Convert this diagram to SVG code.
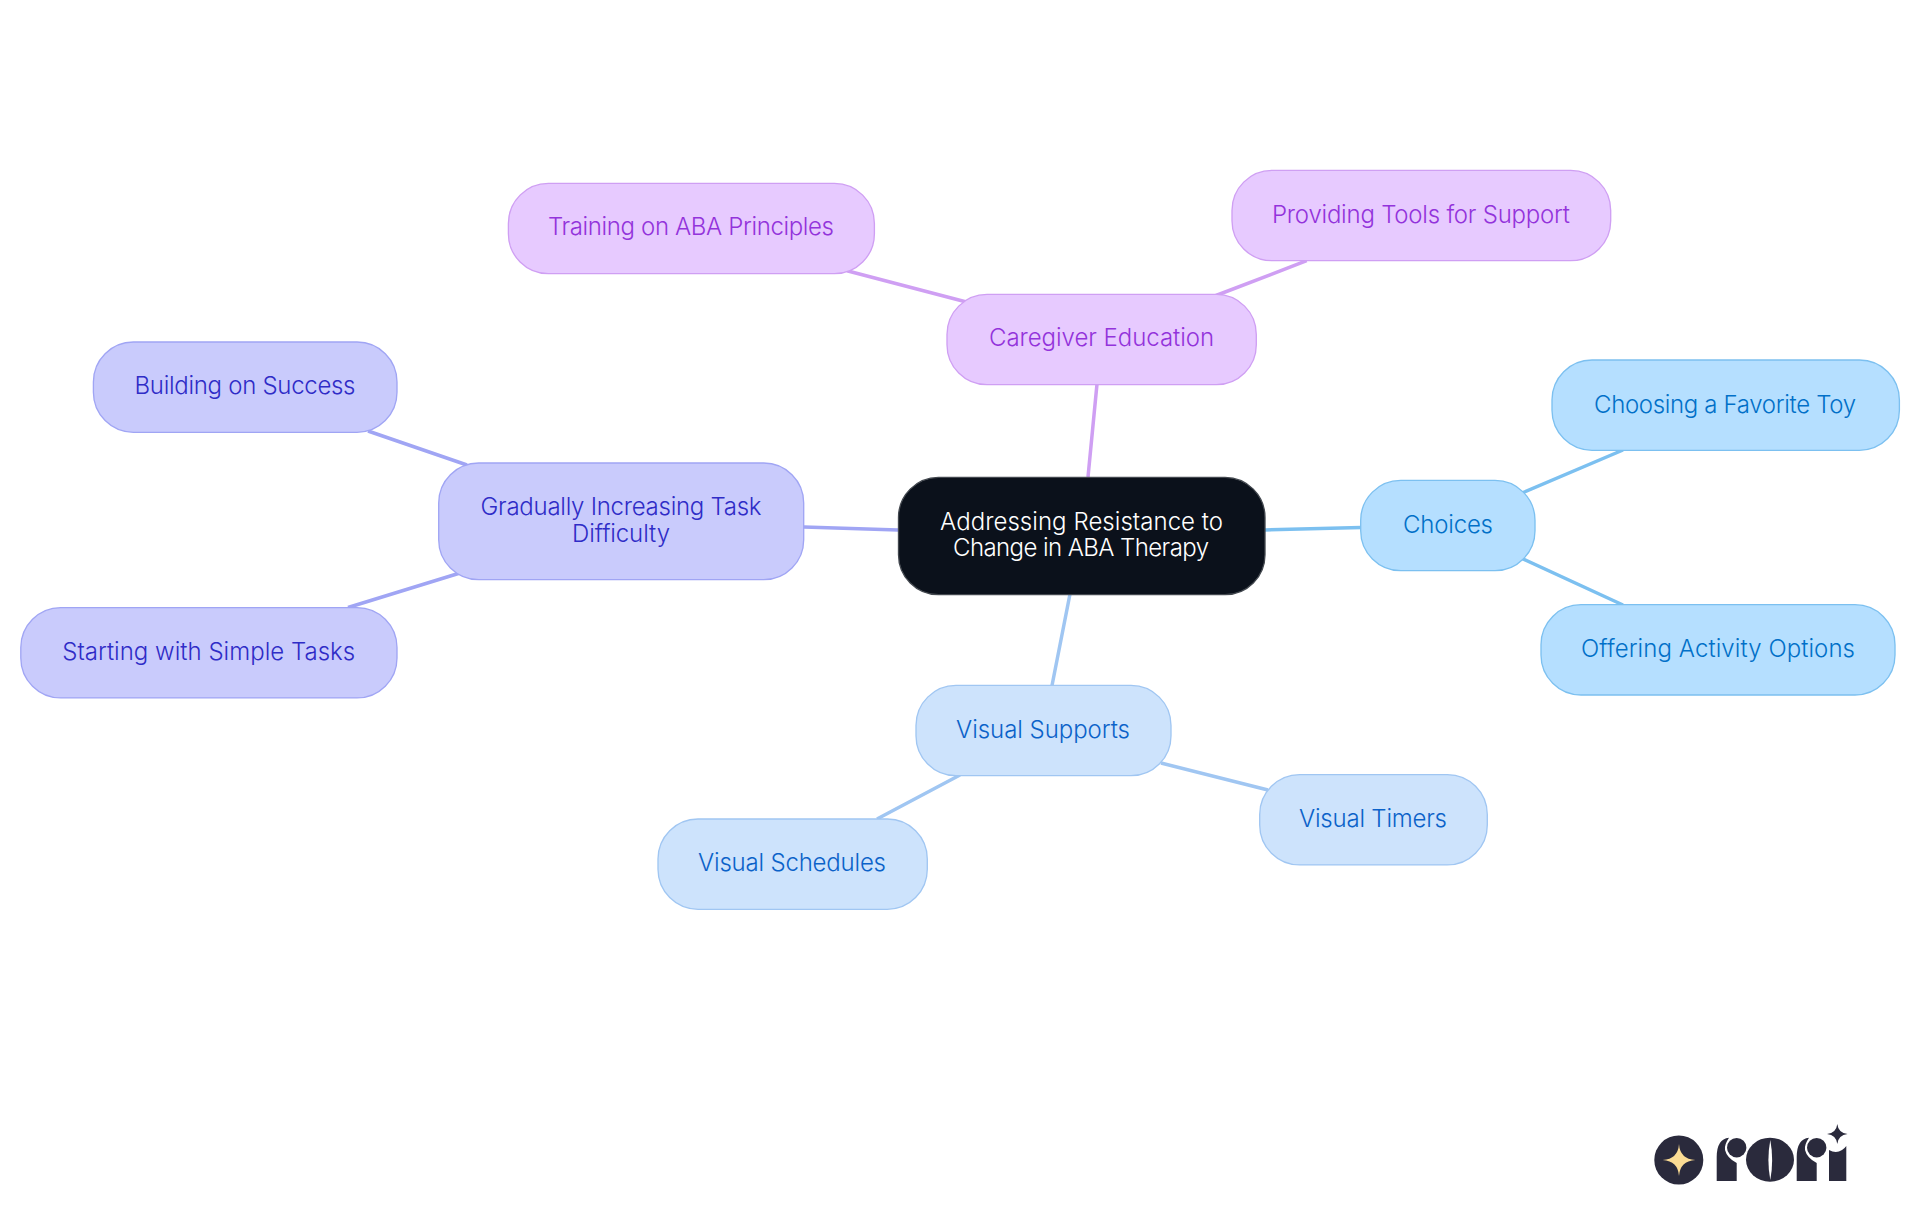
<svg xmlns="http://www.w3.org/2000/svg" width="1920" height="1215" viewBox="0 0 1920 1215">
<style>
text{font-family:"Inter","Noto Sans","Liberation Sans",sans-serif;font-size:24px;font-weight:350;text-anchor:middle}
.c{fill:none;stroke-width:3.5}
.n{stroke-width:1.33}
.root rect{fill:#0b111b;stroke:#43484f}.root text{fill:#fff}
.pu rect{fill:#e7caff;stroke:#cf9ff3}.pu text{fill:#9333db}
.sk rect{fill:#b5dfff;stroke:#7cc0f0}.sk text{fill:#0170c8}
.bl rect{fill:#cde3fc;stroke:#a0c6f2}.bl text{fill:#0b62c9}
.in rect{fill:#c9cbfc;stroke:#a0a5f4}.in text{fill:#2f2cc7}
.ink{fill:#2a2a3c}
</style>
<rect width="1920" height="1215" fill="#fff"/>
<g id="connectors">
<path class="c" stroke="#cf9ff3" d="M1097 384L1088 477M847 270.7L965.5 301.7M1216 295.500L1306.7 260.7"/>
<path class="c" stroke="#7cc0f0" d="M1265 530L1361 527.5M1522 493L1623 450M1521 558L1623 605"/>
<path class="c" stroke="#a0c6f2" d="M1070 594L1052 685.500M960 775L877 819M1161 763L1268 790"/>
<path class="c" stroke="#a0a5f4" d="M804 527L898 530M368 431L467 465M460 573L348 607.500"/>
</g>
<g id="node-root" class="root"><rect class="n" x="898.5" y="477.4" width="366.5" height="117.3" rx="40"/><text x="1081.6" y="530" textLength="283">Addressing Resistance to</text><text x="1081" y="556.400" textLength="256">Change in ABA Therapy</text></g>
<g id="node-caregiver" class="pu"><rect class="n" x="947" y="294.4" width="309.3" height="90.3" rx="40"/><text x="1101.5" y="345.7" textLength="225">Caregiver Education</text></g>
<g id="node-training" class="pu"><rect class="n" x="508.4" y="183.4" width="366" height="90.3" rx="40"/><text x="691" y="235" textLength="286">Training on ABA Principles</text></g>
<g id="node-providing" class="pu"><rect class="n" x="1232" y="170.4" width="378.7" height="90.3" rx="40"/><text x="1421" y="222.7" textLength="298">Providing Tools for Support</text></g>
<g id="node-choices" class="sk"><rect class="n" x="1360.7" y="480.4" width="174.3" height="90.3" rx="40"/><text x="1448" y="532.7" textLength="90">Choices</text></g>
<g id="node-choosing" class="sk"><rect class="n" x="1552" y="360" width="347.4" height="90.3" rx="40"/><text x="1725" y="412.7" textLength="262">Choosing a Favorite Toy</text></g>
<g id="node-offering" class="sk"><rect class="n" x="1541" y="604.7" width="354" height="90.3" rx="40"/><text x="1718" y="656.7" textLength="274">Offering Activity Options</text></g>
<g id="node-supports" class="bl"><rect class="n" x="916" y="685.4" width="255" height="90.3" rx="40"/><text x="1043" y="737.7" textLength="174">Visual Supports</text></g>
<g id="node-schedules" class="bl"><rect class="n" x="658" y="819" width="269.3" height="90.3" rx="40"/><text x="792" y="871" textLength="188">Visual Schedules</text></g>
<g id="node-timers" class="bl"><rect class="n" x="1259.7" y="774.6" width="227.6" height="90.3" rx="40"/><text x="1373" y="826.7" textLength="148">Visual Timers</text></g>
<g id="node-gradually" class="in"><rect class="n" x="438.7" y="463" width="365" height="116.7" rx="40"/><text x="621" y="515.200" textLength="281">Gradually Increasing Task</text><text x="621" y="541.7" textLength="98">Difficulty</text></g>
<g id="node-building" class="in"><rect class="n" x="93.400" y="342" width="303.600" height="90.3" rx="40"/><text x="245" y="394" textLength="221">Building on Success</text></g>
<g id="node-starting" class="in"><rect class="n" x="20.8" y="607.6" width="376.2" height="90.3" rx="40"/><text x="208.7" y="660" textLength="293">Starting with Simple Tasks</text></g>
<g id="logo">
<circle class="ink" cx="1678.8" cy="1160" r="24.5"/>
<path fill="#fbdc94" d="M1679 1144Q1680 1159 1695.300 1160Q1680 1161 1679 1176Q1678 1161 1662.700 1160Q1678 1159 1679 1144Z"/>
<path class="ink" d="M1716.700 1181V1157Q1716.700 1139 1729 1137.700Q1724 1145 1725 1150Q1727 1158 1736.700 1163V1181Z"/>
<circle class="ink" cx="1736.700" cy="1147.700" r="9.700"/>
<ellipse class="ink" cx="1770" cy="1159.700" rx="24" ry="22"/>
<path fill="#fff" d="M1770.300 1140Q1766.500 1160 1770.300 1180Q1774 1160 1770.300 1140Z"/>
<path class="ink" d="M1796.700 1181V1157Q1796.700 1139 1809 1137.700Q1804 1145 1805 1150Q1807 1158 1816.700 1163V1181Z"/>
<circle class="ink" cx="1816.700" cy="1147.700" r="9.700"/>
<path class="ink" d="M1829 1181V1150Q1836 1154 1842 1150Q1845 1148 1846.300 1146V1181Z"/>
<path class="ink" d="M1837.300 1124Q1838.300 1133 1847.600 1134Q1838.300 1135 1837.300 1144Q1836.300 1135 1827 1134Q1836.300 1133 1837.300 1124Z"/>
</g>
</svg>
